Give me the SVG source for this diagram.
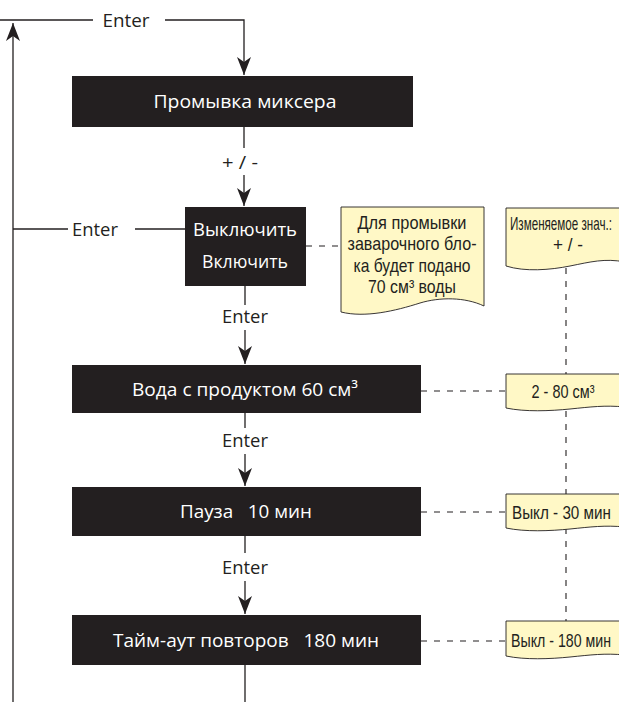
<svg xmlns="http://www.w3.org/2000/svg" width="619" height="702" viewBox="0 0 619 702">
  <style>
    .box { fill: #231f20; }
    .note { fill: #fff8c6; stroke: #231f20; stroke-width: 0.9; }
    .line { fill: none; stroke: #231f20; stroke-width: 1.3; }
    .dash { fill: none; stroke: #231f20; stroke-width: 1.1; stroke-dasharray: 6 7; }
    .wt { fill: #ffffff; font-family: "Open Sans", "Liberation Sans", sans-serif; font-size: 19px; text-anchor: middle; }
    .bt { fill: #231f20; font-family: "Open Sans", "Liberation Sans", sans-serif; font-size: 19px; text-anchor: middle; }
    .nt { fill: #231f20; font-family: "Liberation Sans", sans-serif; font-size: 19px; }
  </style>
  <defs>
    <marker id="arrow" markerUnits="userSpaceOnUse" markerWidth="20" markerHeight="16" viewBox="-19 -8 20 16" refX="0" refY="0" orient="auto">
      <path d="M0,0 L-18,-7 L-13,0 L-18,7 Z" fill="#231f20"/>
    </marker>
  </defs>

  <!-- connectors -->
  <g id="connectors">
    <!-- return loop on the left -->
    <path class="line" d="M13,702 V23" marker-end="url(#arrow)"/>
    <path class="line" d="M0,20 H93"/>
    <path class="line" d="M165,20 H244 V75" marker-end="url(#arrow)"/>
    <text class="bt" x="126" y="27" textLength="47" lengthAdjust="spacingAndGlyphs">Enter</text>

    <path class="line" d="M13,229 H68"/>
    <path class="line" d="M135,229 H185"/>
    <text class="bt" x="95" y="236" textLength="46" lengthAdjust="spacingAndGlyphs">Enter</text>

    <!-- main chain -->
    <path class="line" d="M244,127 V148"/>
    <text class="bt" x="240" y="169" textLength="36" lengthAdjust="spacingAndGlyphs">+ / -</text>
    <path class="line" d="M244,175 V206" marker-end="url(#arrow)"/>

    <path class="line" d="M245,286 V305"/>
    <text class="bt" x="245" y="323" textLength="46" lengthAdjust="spacingAndGlyphs">Enter</text>
    <path class="line" d="M245,330 V364" marker-end="url(#arrow)"/>

    <path class="line" d="M245,413 V428"/>
    <text class="bt" x="245" y="447" textLength="46" lengthAdjust="spacingAndGlyphs">Enter</text>
    <path class="line" d="M245,454 V486" marker-end="url(#arrow)"/>

    <path class="line" d="M245,536 V553"/>
    <text class="bt" x="245" y="574" textLength="46" lengthAdjust="spacingAndGlyphs">Enter</text>
    <path class="line" d="M245,581 V614" marker-end="url(#arrow)"/>

    <path class="line" d="M245,665 V702"/>

    <!-- dashed links to the notes -->
    <path class="dash" d="M306,246 H341"/>
    <path class="dash" d="M566,268 V622"/>
    <path class="dash" d="M421,391 H506"/>
    <path class="dash" d="M421,512 H506"/>
    <path class="dash" d="M421,641 H506"/>
  </g>

  <!-- process boxes -->
  <g id="node-rinse">
    <rect class="box" x="72" y="76" width="341" height="51"/>
    <text class="wt" x="245" y="108" textLength="183" lengthAdjust="spacingAndGlyphs">Промывка миксера</text>
  </g>
  <g id="node-switch">
    <rect class="box" x="185" y="207" width="121" height="79"/>
    <text class="wt" x="245" y="236" textLength="104" lengthAdjust="spacingAndGlyphs">Выключить</text>
    <text class="wt" x="245" y="268" textLength="86" lengthAdjust="spacingAndGlyphs">Включить</text>
  </g>
  <g id="node-water">
    <rect class="box" x="72" y="365" width="349" height="48"/>
    <text class="wt" x="245" y="396" textLength="226" lengthAdjust="spacingAndGlyphs">Вода с продуктом 60 см³</text>
  </g>
  <g id="node-pause">
    <rect class="box" x="72" y="487" width="349" height="49"/>
    <text class="wt" x="246" y="518" textLength="132" lengthAdjust="spacingAndGlyphs" xml:space="preserve">Пауза   10 мин</text>
  </g>
  <g id="node-timeout">
    <rect class="box" x="72" y="615" width="349" height="50"/>
    <text class="wt" x="246" y="647" textLength="266" lengthAdjust="spacingAndGlyphs" xml:space="preserve">Тайм-аут повторов   180 мин</text>
  </g>

  <!-- notes -->
  <g id="note-rinse">
    <path class="note" d="M341,207 H484 V306 C465,297 440,297 420,303 C395,311 365,318 341,312 Z"/>
    <text class="nt" x="412" y="229" text-anchor="middle" textLength="109" lengthAdjust="spacingAndGlyphs">Для промывки</text>
    <text class="nt" x="412" y="250" text-anchor="middle" textLength="129" lengthAdjust="spacingAndGlyphs">заварочного бло-</text>
    <text class="nt" x="412" y="272" text-anchor="middle" textLength="117" lengthAdjust="spacingAndGlyphs">ка будет подано</text>
    <text class="nt" x="412" y="293" text-anchor="middle" textLength="88" lengthAdjust="spacingAndGlyphs">70 см³ воды</text>
  </g>
  <g id="note-value">
    <path class="note" d="M506,208 H625 V262 C605,258 590,262 570,266 C550,270 525,272 506,266 Z"/>
    <text class="nt" x="510" y="230" font-size="16" textLength="102" lengthAdjust="spacingAndGlyphs">Изменяемое знач.:</text>
    <text class="nt" x="568" y="251" font-size="16" text-anchor="middle" textLength="30" lengthAdjust="spacingAndGlyphs">+ / -</text>
  </g>
  <g id="note-water">
    <path class="note" d="M506,374 H625 V407 C605,405 590,407 570,409 C550,411 525,412 506,408 Z"/>
    <text class="nt" x="563" y="398" text-anchor="middle" textLength="63" lengthAdjust="spacingAndGlyphs">2 - 80 см³</text>
  </g>
  <g id="note-pause">
    <path class="note" d="M506,494 H625 V527 C605,525 590,527 570,529 C550,531 525,532 506,528 Z"/>
    <text class="nt" x="512" y="519" textLength="99" lengthAdjust="spacingAndGlyphs">Выкл - 30 мин</text>
  </g>
  <g id="note-timeout">
    <path class="note" d="M506,621 H625 V655 C605,653 590,655 570,657 C550,659 525,660 506,656 Z"/>
    <text class="nt" x="511" y="647" textLength="100" lengthAdjust="spacingAndGlyphs">Выкл - 180 мин</text>
  </g>
</svg>
